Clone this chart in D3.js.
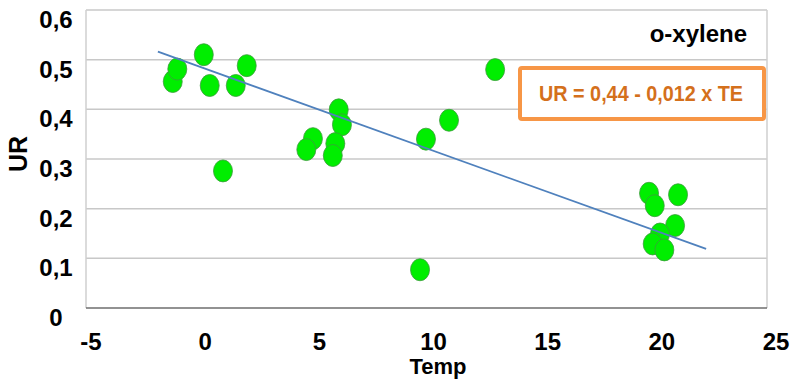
<!DOCTYPE html>
<html>
<head>
<meta charset="UTF-8">
<script src="https://cdn.jsdelivr.net/npm/d3@7"></script>
<style>
  body { margin: 0; background: #fff; }
  text { font-family: "Liberation Sans", Arial, sans-serif; }
</style>
</head>
<body>
<svg id="svg" width="793" height="389"></svg>
<script>
// data
const temp = [-1.42, -1.22, -0.06, 0.20, 1.34, 1.82, 0.78,
              5.85, 5.99, 4.72, 4.43, 5.70, 5.59,
              9.67, 10.68, 12.7, 9.41,
              19.44, 19.69, 20.71, 20.58, 19.92, 19.60, 20.11];
const ur = [0.456, 0.481, 0.510, 0.448, 0.448, 0.488, 0.276,
            0.399, 0.369, 0.341, 0.319, 0.331, 0.307,
            0.340, 0.378, 0.480, 0.077,
            0.231, 0.206, 0.228, 0.166, 0.149, 0.129, 0.117];
const trendX = [-2.07, 21.94];
const trendY = [0.516, 0.119];
const xTicks = [-5, 0, 5, 10, 15, 20, 25];
const yTicks = [0, 0.1, 0.2, 0.3, 0.4, 0.5, 0.6];
const equation = "UR = 0,44 - 0,012 x TE";
const seriesName = "o-xylene";

const svg = d3.select("#svg");
const plotL = 86, plotR = 767;

const x = d3.scaleLinear().domain([-5, 25]).range([91, 776]);
const y = d3.scaleLinear().domain([0, 0.6]).range([308, 10]);
const fmt = d => d === 0 ? "0" : d3.format(".1f")(d).replace(".", ",");

// gridlines
svg.selectAll(".grid")
  .data(yTicks.filter(d => d > 0))
  .enter().append("line")
  .attr("x1", plotL).attr("x2", plotR)
  .attr("y1", d => y(d)).attr("y2", d => y(d))
  .attr("stroke", "#c8c8c8").attr("stroke-width", 1.5);

// frame left / right
svg.append("line").attr("x1", plotL).attr("x2", plotL)
  .attr("y1", y(0.6)).attr("y2", y(0))
  .attr("stroke", "#cfcfcf").attr("stroke-width", 1.5);
svg.append("line").attr("x1", plotR).attr("x2", plotR)
  .attr("y1", y(0.6)).attr("y2", y(0))
  .attr("stroke", "#cfcfcf").attr("stroke-width", 1.5);
// bottom axis
svg.append("line").attr("x1", plotL).attr("x2", plotR)
  .attr("y1", y(0)).attr("y2", y(0))
  .attr("stroke", "#6e6e6e").attr("stroke-width", 1.5);

// y tick labels
svg.selectAll(".ylab")
  .data(yTicks)
  .enter().append("text")
  .attr("x", 56)
  .attr("y", d => y(d) + 18)
  .attr("text-anchor", "middle")
  .attr("font-size", 24).attr("font-weight", "bold")
  .text(fmt);

// x tick labels
svg.selectAll(".xlab")
  .data(xTicks)
  .enter().append("text")
  .attr("x", d => x(d))
  .attr("y", 350)
  .attr("text-anchor", "middle")
  .attr("font-size", 24).attr("font-weight", "bold")
  .text(d => d);

// axis titles
svg.append("text")
  .attr("x", 438).attr("y", 374)
  .attr("text-anchor", "middle")
  .attr("font-size", 22).attr("font-weight", "bold")
  .text("Temp");
svg.append("text")
  .attr("transform", "translate(27,154) rotate(-90)")
  .attr("text-anchor", "middle")
  .attr("font-size", 25).attr("font-weight", "bold")
  .text("UR");

// points
const pts = temp.map((t, i) => ({ t, u: ur[i] }));
svg.selectAll(".pt")
  .data(pts)
  .enter().append("ellipse")
  .attr("cx", d => x(d.t))
  .attr("cy", d => y(d.u))
  .attr("rx", 9.5).attr("ry", 11)
  .attr("fill", "#00ee00")
  .attr("stroke", "#3c9a3c").attr("stroke-width", 0.8);

// trend line
const line = d3.line().x(d => x(d[0])).y(d => y(d[1]));
svg.append("path")
  .datum(trendX.map((t, i) => [t, trendY[i]]))
  .attr("d", line)
  .attr("fill", "none")
  .attr("stroke", "#4f81bd").attr("stroke-width", 1.8);

// series name
svg.append("text")
  .attr("x", 747).attr("y", 42)
  .attr("text-anchor", "end")
  .attr("font-size", 24).attr("font-weight", "bold")
  .text(seriesName);

// equation box
svg.append("rect")
  .attr("x", 520).attr("y", 68)
  .attr("width", 244).attr("height", 51)
  .attr("fill", "#fff")
  .attr("stroke", "#f79646").attr("stroke-width", 4)
  .attr("rx", 2);
svg.append("text")
  .attr("x", 539).attr("y", 101)
  .attr("font-size", 22).attr("font-weight", "bold")
  .attr("fill", "#d4701c")
  .attr("textLength", 204).attr("lengthAdjust", "spacingAndGlyphs")
  .text(equation);
</script>
</body>
</html>
